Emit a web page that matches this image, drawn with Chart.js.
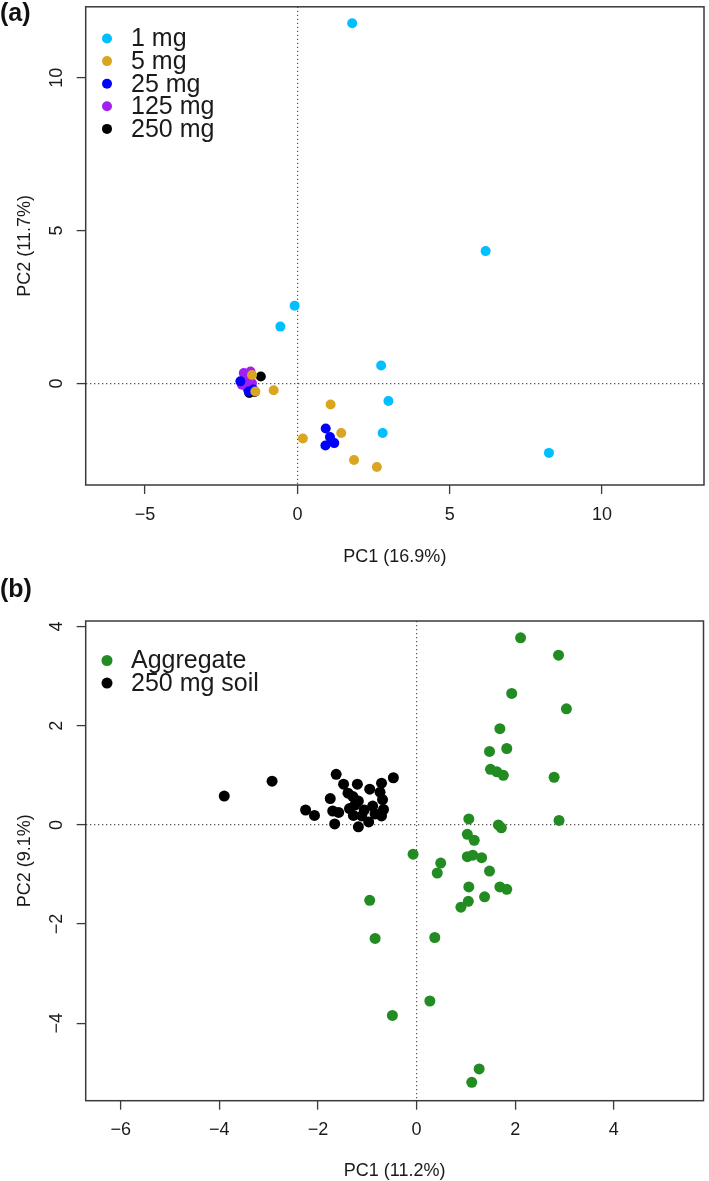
<!DOCTYPE html>
<html><head><meta charset="utf-8">
<script src="https://cdn.jsdelivr.net/npm/chart.js@4.4.1/dist/chart.umd.min.js"></script>
<style>
html,body{margin:0;padding:0;background:#fff;width:709px;height:1181px;overflow:hidden;position:relative;}
.panel{position:absolute;left:0;width:709px;}
#pa{top:0;height:590px;}
#pb{top:590px;height:591px;}
.tag{position:absolute;left:0px;font:bold 25px 'Liberation Sans',Arial,sans-serif;line-height:25px;color:#111;}
</style></head><body>
<div class="panel" id="pa"><canvas id="ca"></canvas></div>
<div class="panel" id="pb"><canvas id="cb"></canvas></div>
<div class="tag" style="top:0px">(a)</div>
<div class="tag" style="top:576px">(b)</div>
<script>
// ---------- Panel (a) data ----------
const aLabels = ['1 mg', '5 mg', '25 mg', '125 mg', '250 mg'];
const aColors = ['#00BFFF', '#DAA520', '#0000FF', '#A020F0', '#000000'];
const a1mgPC1 = [1.80, 6.18, -0.09, -0.56, 2.75, 2.99, 2.80, 8.26];
const a1mgPC2 = [11.78, 4.33, 2.54, 1.86, 0.59, -0.57, -1.62, -2.27];
const a5mgPC1 = [-0.78, 1.09, 0.18, 1.44, 1.86, 2.61, -1.49, -1.38];
const a5mgPC2 = [-0.22, -0.69, -1.80, -1.62, -2.50, -2.73, 0.28, -0.26];
const a25mgPC1 = [0.93, 1.07, 1.21, 0.92, 1.12, -1.87, -1.60, -1.45];
const a25mgPC2 = [-1.47, -1.75, -1.95, -2.03, -1.90, 0.07, -0.26, -0.20];
const a125mgPC1 = [-1.76, -1.60, -1.82, -1.65, -1.49, -1.54, -1.70];
const a125mgPC2 = [0.34, 0.23, -0.04, -0.15, 0.01, 0.39, 0.10];
const a250mgPC1 = [-1.20, -1.58, -1.40];
const a250mgPC2 = [0.23, -0.31, -0.28];
const aTicksX = [-5, 0, 5, 10];
const aTicksY = [0, 5, 10];
const aTitleX = 'PC1 (16.9%)';
const aTitleY = 'PC2 (11.7%)';

// ---------- Panel (b) data ----------
const bLabels = ['Aggregate', '250 mg soil'];
const bColors = ['#228B22', '#000000'];
const bAggPC1 = [2.11, 2.88, 1.93, 3.04, 1.69, 1.48, 1.83, 1.50, 1.63, 1.76, 2.79, 1.06, 2.89, 1.66, 1.72, 1.03, 1.17, -0.07, 0.49, 0.42, 1.03, 1.14, 1.32, 1.48, 1.06, 1.69, 1.83, 1.38, 1.05, 0.90, -0.95, -0.84, 0.37, 0.27, -0.49, 1.27, 1.12];
const bAggPC2 = [3.77, 3.42, 2.65, 2.34, 1.94, 1.48, 1.54, 1.12, 1.07, 1.00, 0.96, 0.12, 0.09, 0.00, -0.06, -0.19, -0.31, -0.59, -0.77, -0.97, -0.64, -0.61, -0.66, -0.93, -1.25, -1.25, -1.30, -1.45, -1.54, -1.66, -1.52, -2.29, -2.27, -3.55, -3.84, -4.92, -5.19];
const bSoilPC1 = [-3.90, -2.93, -2.25, -2.07, -1.75, -1.70, -1.66, -1.63, -1.58, -1.48, -1.39, -1.36, -1.29, -1.28, -1.20, -1.18, -1.18, -1.11, -1.06, -0.97, -0.95, -0.89, -0.74, -0.71, -0.69, -0.67, -0.71, -0.47, -1.25, -0.84];
const bSoilPC2 = [0.58, 0.88, 0.30, 0.19, 0.53, 0.28, 0.02, 1.02, 0.25, 0.82, 0.64, 0.33, 0.57, 0.19, 0.82, 0.48, -0.04, 0.18, 0.30, 0.06, 0.72, 0.38, 0.66, 0.84, 0.51, 0.31, 0.18, 0.95, 0.40, 0.22];
const bTicksX = [-6, -4, -2, 0, 2, 4];
const bTicksY = [-4, -2, 0, 2, 4];
const bTitleX = 'PC1 (11.2%)';
const bTitleY = 'PC2 (9.1%)';

// ---------- styling ----------
const FONT = "'Liberation Sans', Arial, Helvetica, sans-serif";
const INK = '#3a3a3a';
const TXT = '#1a1a1a';
const DOT = '#555555';
const AXF = 18;

function fmt(v) { return v < 0 ? '\u2212' + Math.abs(v) : String(v); }
function pts(xs, ys) { return xs.map((x, i) => ({ x: x, y: ys[i] })); }

const boxPlugin = {
  id: 'rbox',
  afterDraw(chart) {
    const { ctx, chartArea: a } = chart;
    ctx.save();
    ctx.strokeStyle = INK; ctx.lineWidth = 1.5;
    ctx.strokeRect(a.left, a.top, a.right - a.left, a.bottom - a.top);
    ctx.restore();
  }
};
const yLabelPlugin = {
  id: 'ylabels',
  afterDraw(chart, args, opts) {
    const { ctx } = chart; const s = chart.scales.y;
    ctx.save();
    ctx.font = AXF + 'px ' + FONT; ctx.fillStyle = TXT;
    ctx.textAlign = 'center'; ctx.textBaseline = 'middle';
    s.ticks.forEach(t => {
      const y = s.getPixelForValue(t.value);
      ctx.save(); ctx.translate(opts.x, y); ctx.rotate(-Math.PI / 2);
      ctx.fillText(fmt(t.value), 0, 0); ctx.restore();
    });
    ctx.restore();
  }
};
const legendPlugin = {
  id: 'rlegend',
  afterDraw(chart, args, opts) {
    const { ctx } = chart;
    ctx.save();
    ctx.font = '25px ' + FONT; ctx.textBaseline = 'middle'; ctx.textAlign = 'left';
    chart.data.datasets.forEach((ds, i) => {
      const y = opts.y + i * opts.dy;
      ctx.fillStyle = ds.backgroundColor;
      ctx.beginPath(); ctx.arc(opts.x, y, opts.r, 0, Math.PI * 2); ctx.fill();
      ctx.fillStyle = TXT;
      ctx.fillText(ds.label, opts.x + 24, y + 1);
    });
    ctx.restore();
  }
};

function xAxis(min, max, ticks, title, h, padB) {
  return {
    type: 'linear', position: 'bottom', min: min, max: max,
    afterBuildTicks: s => { s.ticks = ticks.map(v => ({ value: v })); },
    afterFit: s => { s.height = h; },
    grid: {
      color: c => (c.tick && c.tick.value === 0) ? DOT : 'rgba(0,0,0,0)',
      lineWidth: 1.2, drawTicks: true, tickLength: 9, tickColor: INK, tickWidth: 1.3
    },
    border: { display: false, dash: [1.3, 2.7] },
    ticks: { callback: v => fmt(v), font: { family: FONT, size: AXF }, color: TXT, padding: 10, maxRotation: 0, autoSkip: false },
    title: { display: true, text: title, font: { family: FONT, size: AXF, lineHeight: 1 }, color: TXT, padding: { top: 0, bottom: padB } }
  };
}
function yAxis(min, max, ticks, title) {
  return {
    type: 'linear', position: 'left', min: min, max: max,
    afterBuildTicks: s => { s.ticks = ticks.map(v => ({ value: v })); },
    afterFit: s => { s.width = 85.7; },
    grid: {
      color: c => (c.tick && c.tick.value === 0) ? DOT : 'rgba(0,0,0,0)',
      lineWidth: 1.2, drawTicks: true, tickLength: 9, tickColor: INK, tickWidth: 1.3
    },
    border: { display: false, dash: [1.3, 2.7] },
    ticks: { display: false },
    title: { display: true, text: title, font: { family: FONT, size: AXF, lineHeight: 1 }, color: TXT, padding: { top: 16, bottom: 0 } }
  };
}
function ds(label, color, xs, ys, r) {
  return { label: label, data: pts(xs, ys), backgroundColor: color, borderWidth: 0, pointRadius: r, pointHoverRadius: r };
}

Chart.defaults.font.family = FONT;

new Chart(document.getElementById('ca'), {
  type: 'scatter',
  data: {
    datasets: [
      ds(aLabels[0], aColors[0], a1mgPC1, a1mgPC2, 5),
      ds(aLabels[1], aColors[1], a5mgPC1, a5mgPC2, 5),
      ds(aLabels[2], aColors[2], a25mgPC1, a25mgPC2, 5),
      ds(aLabels[3], aColors[3], a125mgPC1, a125mgPC2, 5),
      ds(aLabels[4], aColors[4], a250mgPC1, a250mgPC2, 5)
    ]
  },
  options: {
    animation: false, responsive: true, maintainAspectRatio: false, devicePixelRatio: 1,
    layout: { padding: { left: 0, right: 1.4, top: 6.8, bottom: 0 } },
    plugins: {
      legend: { display: false }, tooltip: { enabled: false },
      ylabels: { x: 56.7 },
      rlegend: { x: 107, y: 38.5, dy: 22.6, r: 5 }
    },
    scales: {
      x: xAxis(-6.95, 13.35, aTicksX, aTitleX, 105, 24),
      y: yAxis(-3.32, 12.32, aTicksY, aTitleY)
    }
  },
  plugins: [boxPlugin, yLabelPlugin, legendPlugin]
});

new Chart(document.getElementById('cb'), {
  type: 'scatter',
  data: {
    datasets: [
      ds(bLabels[0], bColors[0], bAggPC1, bAggPC2, 5.5),
      ds(bLabels[1], bColors[1], bSoilPC1, bSoilPC2, 5.5)
    ]
  },
  options: {
    animation: false, responsive: true, maintainAspectRatio: false, devicePixelRatio: 1,
    layout: { padding: { left: 0, right: 1.2, top: 31, bottom: 0 } },
    plugins: {
      legend: { display: false }, tooltip: { enabled: false },
      ylabels: { x: 56.7 },
      rlegend: { x: 107, y: 70.5, dy: 22.6, r: 5.5 }
    },
    scales: {
      x: xAxis(-6.71, 5.82, bTicksX, bTitleX, 80.3, 0.5),
      y: yAxis(-5.56, 4.11, bTicksY, bTitleY)
    }
  },
  plugins: [boxPlugin, yLabelPlugin, legendPlugin]
});
</script>
</body></html>
